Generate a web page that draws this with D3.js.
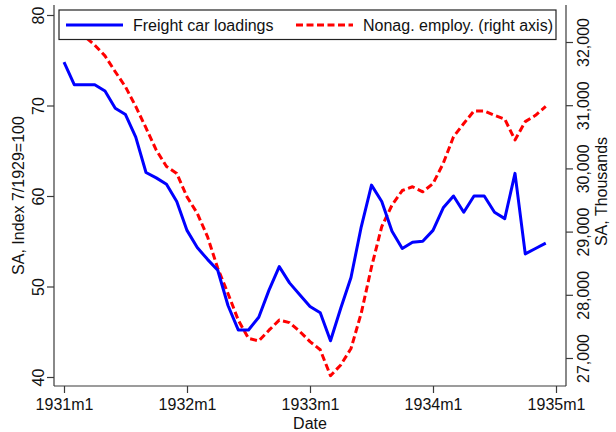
<!DOCTYPE html>
<html>
<head>
<meta charset="utf-8">
<script src="https://cdn.jsdelivr.net/npm/d3@7"></script>
<style>
  html, body { margin: 0; padding: 0; background: #fff; }
  svg { display: block; font-family: "Liberation Sans", Arial, Helvetica, sans-serif; }
</style>
</head>
<body>
<svg id="chart" width="616" height="432"></svg>
<script>
// ---- Data (monthly, 1931m1 .. 1934m12) ----
const monthIndex = d3.range(48); // 0 = 1931m1
const freightLoadings = [
  74.8, 72.3, 72.3, 72.3, 71.6, 69.7, 69.0, 66.5, 62.6, 62.0, 61.3, 59.4,
  56.2, 54.3, 53.0, 51.8, 47.9, 45.2, 45.2, 46.6, 49.6, 52.2, 50.4, 49.1,
  47.8, 47.1, 44.0, 47.6, 51.0, 56.6, 61.2, 59.4, 56.1, 54.2, 54.9, 55.0,
  56.2, 58.7, 60.0, 58.2, 60.0, 60.0, 58.2, 57.5, 62.5, 53.6, 54.2, 54.8
];
const nonagEmploy = [
  32400, 32250, 32090, 31950, 31780, 31530, 31290, 30980, 30640, 30290, 30030, 29920,
  29550, 29290, 28920, 28420, 28020, 27600, 27310, 27270, 27440, 27600, 27560, 27420,
  27260, 27130, 26720, 26890, 27150, 27710, 28440, 29080, 29420, 29650, 29710, 29630,
  29760, 30080, 30500, 30710, 30910, 30910, 30840, 30780, 30450, 30740, 30840, 30980
];
const xTickValues = [0, 12, 24, 36, 48];
const xTickLabels = ["1931m1", "1932m1", "1933m1", "1934m1", "1935m1"];
const leftTicks = [40, 50, 60, 70, 80];
const rightTicks = [27000, 28000, 29000, 30000, 31000, 32000];
const seriesNames = ["Freight car loadings", "Nonag. employ. (right axis)"];
const seriesColors = ["#0000ff", "#ff0000"];

// ---- Layout ----
const plot = { left: 54, right: 566, top: 5, bottom: 386 };
const svg = d3.select("#chart");
const axisColor = "#3a3a3a";
const fontSize = 16;

const x = d3.scaleLinear().domain([0, 48]).range([64, 556]);
const yL = d3.scaleLinear().domain([40, 80]).range([377, 15]);
const yR = d3.scaleLinear().domain([27000, 32000]).range([358, 42]);

svg.append("rect").attr("width", 616).attr("height", 432).attr("fill", "#fff");

svg.append("clipPath").attr("id", "clip").append("rect")
  .attr("x", plot.left).attr("y", plot.top)
  .attr("width", plot.right - plot.left).attr("height", plot.bottom - plot.top);

// ---- Axes ----
const xAxis = d3.axisBottom(x).tickValues(xTickValues)
  .tickFormat((d, i) => xTickLabels[i]).tickSize(7).tickSizeOuter(0);
const gx = svg.append("g").attr("transform", `translate(0,${plot.bottom})`).call(xAxis);
gx.select(".domain").attr("d", `M${plot.left},0H${plot.right}`);

const yAxisL = d3.axisLeft(yL).tickValues(leftTicks).tickSize(7).tickSizeOuter(0);
const gyl = svg.append("g").attr("transform", `translate(${plot.left},0)`).call(yAxisL);
gyl.select(".domain").attr("d", `M0,${plot.top}V${plot.bottom}`);
gyl.selectAll(".tick text")
  .attr("x", null).attr("dy", null)
  .attr("transform", "translate(-10.5,0) rotate(-90)")
  .attr("text-anchor", "middle");

const yAxisR = d3.axisRight(yR).tickValues(rightTicks).tickSize(7).tickSizeOuter(0)
  .tickFormat(d3.format(","));
const gyr = svg.append("g").attr("transform", `translate(${plot.right},0)`).call(yAxisR);
gyr.select(".domain").attr("d", `M0,${plot.top}V${plot.bottom}`);
gyr.selectAll(".tick text")
  .attr("x", null).attr("dy", null)
  .attr("transform", "translate(23,0) rotate(-90)")
  .attr("text-anchor", "middle");

[gx, gyl, gyr].forEach(g => {
  g.attr("font-family", null).attr("font-size", null);
  g.select(".domain").attr("stroke", axisColor).attr("stroke-width", 1.2);
  g.selectAll(".tick line").attr("stroke", axisColor).attr("stroke-width", 1.2);
  g.selectAll(".tick text").attr("fill", "#111").style("font-size", fontSize + "px");
});
gx.selectAll(".tick text").attr("dy", null).attr("y", 23.5);

// axis titles
svg.append("text").attr("x", (plot.left + plot.right) / 2).attr("y", 429)
  .attr("text-anchor", "middle").attr("fill", "#111").style("font-size", fontSize + "px")
  .text("Date");
svg.append("text").attr("transform", `translate(24,${(plot.top + plot.bottom) / 2}) rotate(-90)`)
  .attr("text-anchor", "middle").attr("fill", "#111").style("font-size", fontSize + "px")
  .text("SA, Index 7/1929=100");
svg.append("text").attr("transform", `translate(606.5,${(plot.top + plot.bottom) / 2 - 4}) rotate(-90)`)
  .attr("text-anchor", "middle").attr("fill", "#111").style("font-size", fontSize + "px")
  .text("SA, Thousands");

// ---- Lines ----
const gLines = svg.append("g").attr("clip-path", "url(#clip)");
const lineL = d3.line().x((d, i) => x(monthIndex[i])).y(d => yL(d));
const lineR = d3.line().x((d, i) => x(monthIndex[i])).y(d => yR(d));

gLines.append("path").datum(nonagEmploy).attr("d", lineR)
  .attr("fill", "none").attr("stroke", seriesColors[1]).attr("stroke-width", 3)
  .attr("stroke-dasharray", "7,3.5").attr("stroke-linejoin", "round");
gLines.append("path").datum(freightLoadings).attr("d", lineL)
  .attr("fill", "none").attr("stroke", seriesColors[0]).attr("stroke-width", 3)
  .attr("stroke-linejoin", "round");

// ---- Legend ----
const legend = svg.append("g");
legend.append("rect").attr("x", 59).attr("y", 10).attr("width", 497).attr("height", 29.5)
  .attr("fill", "#fff").attr("stroke", "#222").attr("stroke-width", 1.2);
const legItems = [
  { x1: 66, x2: 123, tx: 133, dash: null },
  { x1: 296, x2: 353, tx: 363, dash: "7,3.5" }
];
legItems.forEach((it, i) => {
  const ln = legend.append("line").attr("x1", it.x1).attr("x2", it.x2)
    .attr("y1", 25).attr("y2", 25)
    .attr("stroke", seriesColors[i]).attr("stroke-width", 3);
  if (it.dash) ln.attr("stroke-dasharray", it.dash);
  legend.append("text").attr("x", it.tx).attr("y", 30.5)
    .attr("fill", "#111").style("font-size", fontSize + "px").text(seriesNames[i]);
});
</script>
</body>
</html>
